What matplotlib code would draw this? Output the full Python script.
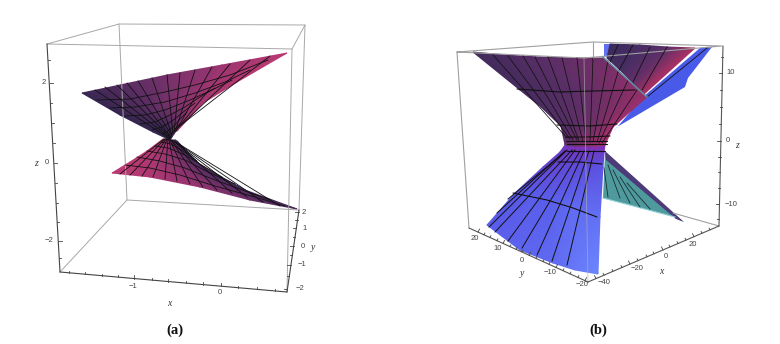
import numpy as np
import matplotlib
matplotlib.use('Agg')
import matplotlib.pyplot as plt
from matplotlib.colors import LinearSegmentedColormap

# everything, in picture pixels (x right, y down)

# ---- panel (a) ----
a_up_x = [[170, 172, 174, 176, 177], [153, 165, 175, 187, 203], [120, 148, 170, 200, 237], [82, 120, 167, 222, 287]]
a_up_y = [[140, 137, 134, 131, 131], [132, 126, 118, 110, 103], [115, 113, 105, 94, 82], [93, 85, 75, 65, 53]]
a_up_c = [[0, .1, .3, .6, .8], [0, .1, .4, .7, .9], [0, .25, .5, .75, .95], [.05, .25, .5, .75, 1]]

a_lo_x = [[163, 168, 172, 175, 177], [147, 165, 180, 193, 200], [130, 155, 185, 215, 245], [112, 150, 200, 250, 297]]
a_lo_y = [[139, 139, 140, 140, 141], [151, 154, 157, 160, 165], [162, 165, 170, 178, 190], [173, 177, 187, 200, 209]]
a_lo_c = [[.9, .7, .4, .1, 0], [1, .8, .5, .2, 0], [1, .85, .6, .3, .05], [1, .9, .7, .4, .15]]

a_up_rib_x0 = [95, 105, 117, 127, 138, 152, 167, 180, 195, 212, 230, 250, 270]
a_up_rib_y0 = [90, 87, 85, 83, 81, 78, 75, 73, 70, 67, 64, 60, 56]
a_up_rib_x1 = [170, 170, 171, 171, 172, 172, 173, 174, 175, 176, 177, 179, 181]
a_up_rib_y1 = [139, 138, 138, 137, 136, 135, 134, 133, 132, 131, 129, 127, 125]

a_lo_rib_x0 = [120, 130, 142, 153, 165, 177, 190, 203, 217, 232, 247, 263, 280]
a_lo_rib_y0 = [174, 175, 176, 177, 179, 181, 184, 187, 190, 193, 197, 202, 206]
a_lo_rib_x1 = [164, 165, 166, 167, 168, 169, 170, 171, 172, 174, 175, 177, 179]
a_lo_rib_y1 = [139, 139, 139, 139, 139, 140, 140, 140, 141, 141, 142, 143, 144]

a_arcs = [
    [(97, 100), (130, 99), (165, 92), (195, 85), (230, 75), (268, 60)],
    [(110, 108), (135, 107), (165, 102), (195, 93), (225, 82), (250, 70)],
    [(125, 116), (145, 115), (165, 110), (190, 100), (212, 90), (232, 80)],
    [(140, 124), (155, 122), (170, 115), (185, 107), (200, 97), (215, 88)],
    [(152, 130), (162, 127), (172, 121), (182, 113), (195, 103)],
    [(162, 134), (168, 131), (174, 126), (180, 119), (187, 112)],
    [(168, 136), (172, 133), (176, 128), (180, 124)],
    [(125, 165), (150, 168), (180, 175), (215, 186), (255, 197), (285, 206)],
    [(137, 157), (160, 161), (185, 168), (215, 180), (245, 191), (270, 200)],
    [(147, 151), (165, 154), (185, 160), (210, 173), (235, 184)],
    [(155, 146), (168, 148), (185, 155), (205, 167), (222, 177)],
    [(161, 142), (171, 144), (183, 151), (197, 161)],
    [(166, 139), (174, 141), (182, 147)],
]

a_box_back = [[(47, 44), (119, 24), (305, 25), (292, 49), (47, 44)], [(119, 24), (127, 200), (299, 210)],
              [(127, 200), (60, 272)], [(305, 25), (299, 210)], [(292, 49), (287, 292)]]
a_box_axes = [[(47, 44), (60, 272)], [(60, 272), (287, 292)], [(287, 292), (299, 210)]]

a_z_ticks = [60, 83, 103, 123, 143, 163, 183, 203, 222, 241, 258]
a_z_major = [83, 163, 241]
a_z_labels = ['2', '0', '\u22122']
a_x_ticks = [69, 85, 102, 118, 134, 152, 168, 186, 203, 221, 238, 257, 275]
a_x_major = [134, 221]
a_x_labels = ['\u22121', '0']
a_y_ticks = [212, 220, 228, 237, 246, 255, 265, 276, 289]
a_y_major = [212, 228, 246, 265, 289]
a_y_labels = ['2', '1', '0', '\u22121', '\u22122']

# ---- panel (b) ----
b_up_x = [[473, 505, 540, 575, 603], [520, 545, 575, 610, 647], [541, 560, 585, 610, 632], [561, 572, 585, 600, 613], [565, 575, 585, 595, 605]]
b_up_y = [[52, 55, 57, 58, 58], [90, 89, 90, 92, 97], [107, 107, 107, 107, 110], [126, 127, 127, 127, 127], [145, 146, 146, 146, 145]]
b_up_c = [[.05, .15, .3, .45, .55], [.1, .2, .35, .6, .9], [.15, .25, .4, .65, .9], [.2, .3, .45, .65, 1], [.35, .5, .7, .9, 1]]

b_lo_x = [[565, 575, 585, 595, 605], [560, 572, 585, 595, 604], [543, 558, 575, 590, 603], [515, 530, 547, 570, 600], [487, 520, 553, 575, 598]]
b_lo_y = [[145, 146, 146, 146, 145], [152, 153, 153, 152, 153], [167, 165, 165, 166, 167], [193, 195, 200, 208, 217], [225, 250, 263, 270, 274]]
b_lo_c = [[.2, .1, .05, 0, 0], [.35, .3, .3, .3, .35], [.45, .45, .5, .55, .6], [.65, .7, .7, .8, .85], [.7, .75, .8, .9, 1]]

b_back_x = [[610, 640, 668, 695], [607, 622, 634, 643]]
b_back_y = [[44, 45, 47, 48], [58, 72, 84, 95]]
b_back_c = [[0, .15, .4, .95], [.05, .2, .5, .95]]

b_sliver = [(604, 44), (610, 44), (609, 58), (604, 56)]
b_blue = [(700, 48), (712, 47), (688, 78), (685, 87), (617, 127), (613, 132), (643, 97)]
b_teal = [(605, 153), (683, 222), (675, 217), (603, 198)]
b_teal_top = [(605, 151), (684, 222), (676, 219), (606, 160)]

b_up_rib_x0 = [493, 508, 523, 535, 548, 562, 577, 593, 608, 618, 628, 637]
b_up_rib_y0 = [55, 56, 56, 57, 57, 58, 58, 58, 60, 72, 80, 90]
b_up_rib_x1 = [567, 570, 573, 577, 579, 583, 586, 590, 593, 597, 599, 602]
b_up_rib_y1 = [138, 139, 140, 140, 141, 142, 142, 142, 142, 142, 143, 143]

b_lo_rib_x0 = [489, 495, 508, 522, 537, 552, 567, 497, 508]
b_lo_rib_y0 = [227, 232, 241, 248, 255, 261, 265, 213, 199]
b_lo_rib_x1 = [567, 572, 575, 580, 584, 589, 594, 565, 566]
b_lo_rib_y1 = [150, 150, 150, 151, 151, 151, 151, 151, 151]

b_back_rib_x0 = [618, 633, 650, 667, 707]
b_back_rib_y0 = [45, 45, 47, 47, 48]
b_back_rib_x1 = [610, 618, 633, 642, 647]
b_back_rib_y1 = [62, 72, 82, 90, 97]

b_teal_rib_x0 = [604, 608, 613, 620, 627]
b_teal_rib_y0 = [168, 165, 170, 177, 183]
b_teal_rib_x1 = [608, 620, 630, 640, 650]
b_teal_rib_y1 = [197, 198, 203, 207, 209]

b_arcs = [
    [(517, 89), (560, 92), (593, 91), (635, 90)],
    [(557, 125), (590, 126), (617, 124)],
    [(566, 137), (587, 137), (610, 136)],
    [(566, 141), (607, 141)],
    [(567, 144), (607, 144)],
    [(567, 151), (605, 151)],
    [(558, 162), (580, 162), (602, 164)],
    [(513, 193), (547, 200), (573, 208), (597, 217)],
]

b_box_back = [[(457, 52), (593, 42), (722, 46), (584, 58), (457, 52)], [(593, 42), (593, 58)],
              [(457, 52), (469, 228)], [(673, 213), (719, 226)]]
b_box_axes = [[(469, 228), (588, 282)], [(588, 282), (719, 226)], [(723, 46), (719, 226)]]
b_front = [(584, 58), (588, 282)]

b_z_ticks = [57, 73, 90, 107, 124, 141, 157, 172, 188, 204, 219]
b_z_major = [73, 141, 204]
b_z_labels = ['10', '0', '\u221210']
b_y_ticks = [478, 484, 490, 497, 503, 510, 516, 522, 529, 536, 543, 549, 556, 563, 570, 578, 585]
b_y_major = [478, 503, 529, 556, 585]
b_y_labels = ['20', '10', '0', '\u221210', '\u221220']
b_x_ticks = [596, 604, 613, 622, 630, 638, 647, 654, 663, 670, 678, 686, 694, 702, 710]
b_x_major = [596, 630, 663, 694]
b_x_labels = ['\u221240', '\u221220', '0', '20']

cmap_a = LinearSegmentedColormap.from_list('a', ['#33264f', '#5f2f66', '#8f3470', '#bc3b74'])
cmap_b_up = LinearSegmentedColormap.from_list('bu', ['#3e2a5a', '#5c2f68', '#7b2f66', '#a8306e'])
cmap_b_lo = LinearSegmentedColormap.from_list('bl', ['#8b2fa8', '#6a3cc8', '#5858e8', '#6c86ff'])
cmap_back = LinearSegmentedColormap.from_list('bk', ['#3a2a5c', '#55306a', '#7a2f66', '#b53062'])

fig = plt.figure(figsize=(7.8, 3.44), dpi=100)
ax = fig.add_axes([0, 0, 1, 1])
ax.set_xlim(0, 780)
ax.set_ylim(344, 0)
ax.axis('off')


def mesh(xs, ys, cs, cmap):
    ax.pcolormesh(np.array(xs, float), np.array(ys, float), np.array(cs, float), cmap=cmap, vmin=0, vmax=1,
                  shading='gouraud', rasterized=True)


def polylines(lines, color, lw, alpha=1.0):
    for line in lines:
        pts = np.array(line)
        ax.plot(pts[:, 0], pts[:, 1], color=color, lw=lw, alpha=alpha, solid_capstyle='round')


def ribs(x0, y0, x1, y1, color='#111111', lw=0.6):
    for i in range(len(x0)):
        ax.plot([x0[i], x1[i]], [y0[i], y1[i]], color=color, lw=lw)


def poly(pts, color):
    pts = np.array(pts)
    ax.fill(pts[:, 0], pts[:, 1], color=color, lw=0)


def ticks_y(ticks, major, p0, p1, dx):
    # ticks along a nearly vertical axis, listed by picture y
    for t in ticks:
        x = np.interp(t, [min(p0[1], p1[1]), max(p0[1], p1[1])], [p0[0], p1[0]] if p0[1] < p1[1] else [p1[0], p0[0]])
        k = 1.0 if t in major else 0.6
        ax.plot([x, x + dx * k], [t, t], color='#444444', lw=0.6)


def ticks_x(ticks, major, p0, p1, dx, dy):
    # ticks along a slanted axis, listed by picture x
    for t in ticks:
        y = np.interp(t, [p0[0], p1[0]], [p0[1], p1[1]])
        k = 1.0 if t in major else 0.6
        ax.plot([t, t + dx * k], [y, y + dy * k], color='#444444', lw=0.6)


def label(x, y, s):
    ax.text(x, y, s, fontsize=5.5, family='Liberation Sans', color='#444444', ha='center', va='center')


def axis_name(x, y, s):
    ax.text(x, y, s, fontsize=7, family='Liberation Serif', style='italic', color='#333333', ha='center', va='center')


# panel (a)
polylines(a_box_back, '#a8a8a8', 0.7)
mesh(a_lo_x, a_lo_y, a_lo_c, cmap_a)
mesh(a_up_x, a_up_y, a_up_c, cmap_a)
ribs(a_lo_rib_x0, a_lo_rib_y0, a_lo_rib_x1, a_lo_rib_y1)
ribs(a_up_rib_x0, a_up_rib_y0, a_up_rib_x1, a_up_rib_y1)
polylines(a_arcs, '#111111', 0.6)
polylines(a_box_axes, '#444444', 0.8)
ticks_y(a_z_ticks, a_z_major, (47, 44), (60, 272), 3.5)
ticks_y(a_y_ticks, a_y_major, (287, 292), (299, 210), -3.5)
ticks_x(a_x_ticks, a_x_major, (60, 272), (287, 292), 0, -3.5)

for i, t in enumerate(a_z_major):
    label(44 + i * 2.5, t, a_z_labels[i])
for i, t in enumerate(a_x_major):
    label(t - 1, 286 + i * 7, a_x_labels[i])
for i, t in enumerate(a_y_major):
    label(306 - i * 1.5 if i else 304, t, a_y_labels[i])
axis_name(36, 163, 'z')
axis_name(169, 303, 'x')
axis_name(313, 248, 'y')
ax.text(175, 330, '(a)', fontsize=10.5, family='Liberation Serif', weight='bold', ha='center', va='center', color='#111111')

# panel (b)
polylines(b_box_back, '#a0a0a0', 0.8)
poly(b_teal, '#4f9a9c')
ax.plot([b_teal[3][0], b_teal[2][0]], [b_teal[3][1], b_teal[2][1]], color='#8fd0d8', lw=0.8)
poly(b_teal_top, '#4d3a78')
ribs(b_teal_rib_x0, b_teal_rib_y0, b_teal_rib_x1, b_teal_rib_y1, color='#1c2c38', lw=0.6)
poly(b_sliver, '#5f70f0')
mesh(b_back_x, b_back_y, b_back_c, cmap_back)
poly(b_blue, '#4a5ae8')
ribs(b_back_rib_x0, b_back_rib_y0, b_back_rib_x1, b_back_rib_y1)
mesh(b_lo_x, b_lo_y, b_lo_c, cmap_b_lo)
mesh(b_up_x, b_up_y, b_up_c, cmap_b_up)
ribs(b_up_rib_x0, b_up_rib_y0, b_up_rib_x1, b_up_rib_y1, lw=0.55)
ribs(b_lo_rib_x0, b_lo_rib_y0, b_lo_rib_x1, b_lo_rib_y1, lw=0.7)
polylines(b_arcs, '#111111', 0.8)
ax.plot([603, 647], [57, 97], color='#5f8fa0', lw=1.1)
ax.plot([b_front[0][0], b_front[1][0]], [b_front[0][1], b_front[1][1]], color='#b0b0b0', lw=0.6, alpha=0.7)
polylines(b_box_axes, '#555555', 0.8)
ticks_y(b_z_ticks, b_z_major, (723, 46), (719, 226), -3.5)
ticks_x(b_y_ticks, b_y_major, (469, 228), (588, 282), 1.5, -3)
ticks_x(b_x_ticks, b_x_major, (588, 282), (719, 226), -1.5, -3)

for i, t in enumerate(b_z_major):
    label(728 + (3 if i != 1 else 0), t, b_z_labels[i])
y_label_x = [475, 498, 522, 550, 582]
y_label_y = [238, 249, 260, 272, 285]
for i in range(len(y_label_x)):
    label(y_label_x[i], y_label_y[i], b_y_labels[i])
x_label_x = [604, 637, 666, 693]
x_label_y = [283, 269, 256, 244]
for i in range(len(x_label_x)):
    label(x_label_x[i], x_label_y[i], b_x_labels[i])
axis_name(737, 145, 'z')
axis_name(661, 272, 'x')
axis_name(522, 274, 'y')
ax.text(598, 330, '(b)', fontsize=10.5, family='Liberation Serif', weight='bold', ha='center', va='center', color='#111111')

fig.savefig('out.png', dpi=100)
